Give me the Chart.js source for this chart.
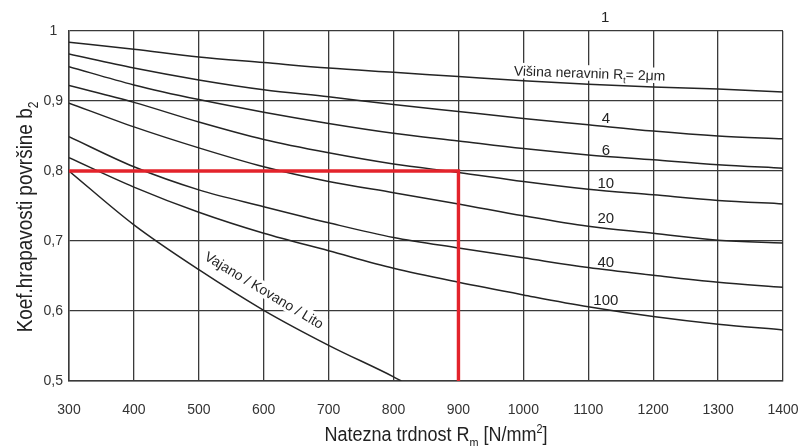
<!DOCTYPE html>
<html>
<head>
<meta charset="utf-8">
<script src="https://cdn.jsdelivr.net/npm/chart.js@4.4.1/dist/chart.umd.min.js"></script>
<style>
  html, body { margin: 0; padding: 0; background: #fff; }
  #wrap { position: relative; width: 799px; height: 446px; }
</style>
</head>
<body>
<div id="wrap"><canvas id="chart"></canvas></div>
<script>
// Tensile strength Rm [N/mm2] (x) and surface roughness factor b2 (y).
const rm = [300, 400, 500, 600, 700, 800, 900, 1000, 1100, 1200, 1300, 1400];
const rt2 = [0.984, 0.974, 0.963, 0.955, 0.947, 0.941, 0.935, 0.929, 0.924, 0.920, 0.917, 0.913];
const rt4 = [0.967, 0.947, 0.930, 0.916, 0.906, 0.895, 0.885, 0.875, 0.866, 0.857, 0.850, 0.846];
const rt6 = [0.949, 0.923, 0.902, 0.884, 0.868, 0.854, 0.843, 0.832, 0.823, 0.816, 0.809, 0.804];
const rt10 = [0.922, 0.898, 0.870, 0.845, 0.826, 0.810, 0.798, 0.785, 0.774, 0.766, 0.758, 0.753];
const rt20 = [0.897, 0.863, 0.833, 0.806, 0.785, 0.769, 0.753, 0.736, 0.721, 0.711, 0.701, 0.697];
const rt40 = [0.849, 0.806, 0.773, 0.749, 0.726, 0.705, 0.690, 0.676, 0.662, 0.651, 0.641, 0.634];
const rt100 = [0.819, 0.777, 0.741, 0.711, 0.686, 0.661, 0.641, 0.623, 0.606, 0.592, 0.581, 0.573];

// cast / forged / rolled curve stops where it meets the bottom axis
const vajanoRm = [300, 400, 500, 600, 700, 800, 812];
const vajano = [0.800, 0.723, 0.659, 0.601, 0.551, 0.506, 0.500];

// red reading line: Rm = 900 -> b2 = 0.8
const readRm = [300, 900, 900];
const readB2 = [0.8, 0.8, 0.5];

const curveNames = ["2", "4", "6", "10", "20", "40", "100"];
const curveValues = [rt2, rt4, rt6, rt10, rt20, rt40, rt100];

const NARROW = '"Liberation Sans Narrow", "Liberation Sans", Arial, sans-serif';
const REGULAR = '"Liberation Sans", Arial, sans-serif';
const INK = "#242424";
const GRID = "#3a3a3a";
const TEXT = "#333";

// labels written on the chart (text runs: [string, "sub"|"sup"|undefined])
const chartLabels = [
  { runs: [["1"]], rm: 1126, b2: 1.021, size: 15 },
  { runs: [["Višina neravnin R"], ["t", "sub"], ["= 2μm"]], rm: 1102, b2: 0.940, size: 14, angle: 2, bg: true },
  { runs: [["4"]], rm: 1127, b2: 0.877, size: 15 },
  { runs: [["6"]], rm: 1127, b2: 0.831, size: 15 },
  { runs: [["10"]], rm: 1127, b2: 0.784, size: 15 },
  { runs: [["20"]], rm: 1127, b2: 0.733, size: 15 },
  { runs: [["40"]], rm: 1127, b2: 0.670, size: 15 },
  { runs: [["100"]], rm: 1127, b2: 0.616, size: 15 },
  { runs: [["Vajano / Kovano / Lito"]], rm: 601, b2: 0.630, size: 14, angle: 31, bg: true },
];

function runFont(size, kind, family) {
  const s = kind ? Math.round(size * 0.62) : size;
  return `${s}px ${family}`;
}

function runsWidth(ctx, runs, size, family) {
  let w = 0;
  runs.forEach(([t, kind]) => {
    ctx.font = runFont(size, kind, family);
    w += ctx.measureText(t).width;
  });
  return w;
}

// draws runs centred on (0,0), vertically centred on the cap height
function drawRuns(ctx, runs, size, family, color) {
  const w = runsWidth(ctx, runs, size, family);
  let x = -w / 2;
  const base = size * 0.36;
  ctx.fillStyle = color;
  ctx.textAlign = "left";
  ctx.textBaseline = "alphabetic";
  runs.forEach(([t, kind]) => {
    ctx.font = runFont(size, kind, family);
    let dy = 0;
    if (kind === "sub") dy = size * 0.28;
    if (kind === "sup") dy = -size * 0.42;
    ctx.fillText(t, x, base + dy);
    x += ctx.measureText(t).width;
  });
  return w;
}

const textPlugin = {
  id: "textPlugin",
  afterDraw(chart) {
    const { ctx } = chart;
    const xs = chart.scales.x;
    const ys = chart.scales.y;

    chartLabels.forEach((l) => {
      const px = xs.getPixelForValue(l.rm);
      const py = ys.getPixelForValue(l.b2);
      ctx.save();
      ctx.translate(px, py);
      if (l.angle) ctx.rotate((l.angle * Math.PI) / 180);
      if (l.bg) {
        const w = runsWidth(ctx, l.runs, l.size, NARROW);
        ctx.fillStyle = "#fff";
        ctx.fillRect(-w / 2 - 2, -l.size * 0.55, w + 4, l.size * 1.1);
      }
      drawRuns(ctx, l.runs, l.size, NARROW, INK);
      ctx.restore();
    });

    // axis titles
    ctx.save();
    ctx.translate(436, 434);
    ctx.scale(0.9, 1);
    drawRuns(ctx, [["Natezna trdnost R"], ["m", "sub"], [" [N/mm"], ["2", "sup"], ["]"]], 20, NARROW, "#222");
    ctx.restore();

    ctx.save();
    ctx.translate(24, 217);
    ctx.rotate(-Math.PI / 2);
    ctx.scale(0.86, 1);
    drawRuns(ctx, [["Koef.hrapavosti površine b"], ["2", "sub"]], 22, NARROW, "#222");
    ctx.restore();
  },
};

const datasets = curveValues.map((vals, i) => ({
  label: "Rt = " + curveNames[i],
  data: rm.map((r, j) => ({ x: r, y: vals[j] })),
  borderColor: INK,
  borderWidth: 1.5,
  pointRadius: 0,
  cubicInterpolationMode: "monotone",
  fill: false,
}));

datasets.push({
  label: "Vajano / Kovano / Lito",
  data: vajanoRm.map((r, j) => ({ x: r, y: vajano[j] })),
  borderColor: INK,
  borderWidth: 1.5,
  pointRadius: 0,
  cubicInterpolationMode: "monotone",
  fill: false,
});

datasets.push({
  label: "Odčitek",
  data: readRm.map((r, j) => ({ x: r, y: readB2[j] })),
  borderColor: "#e3232b",
  borderWidth: 3.4,
  pointRadius: 0,
  tension: 0,
  fill: false,
  order: -1,
});

new Chart(document.getElementById("chart"), {
  type: "line",
  data: { datasets },
  plugins: [textPlugin],
  options: {
    responsive: true,
    maintainAspectRatio: false,
    animation: false,
    layout: { padding: { left: 0, right: 16, top: 31, bottom: 0 } },
    plugins: { legend: { display: false }, tooltip: { enabled: false } },
    scales: {
      x: {
        type: "linear",
        min: 300,
        max: 1400,
        afterFit: (s) => { s.height = 65; s.paddingLeft = 0; s.paddingRight = 0; },
        grid: { color: GRID, lineWidth: 1.3, drawTicks: false },
        border: { color: GRID, width: 1.5 },
        ticks: {
          stepSize: 100,
          autoSkip: false,
          maxRotation: 0,
          padding: 21,
          color: TEXT,
          font: { family: REGULAR, size: 14 },
          callback: (v) => String(v),
        },
      },
      y: {
        min: 0.5,
        max: 1,
        afterFit: (s) => { s.width = 69; s.paddingTop = 0; s.paddingBottom = 0; },
        grid: { color: GRID, lineWidth: 1.3, drawTicks: false },
        border: { color: GRID, width: 1.5 },
        ticks: {
          stepSize: 0.1,
          padding: 6,
          crossAlign: "center",
          color: TEXT,
          font: { family: REGULAR, size: 14 },
          callback: (v) => (Math.abs(v - 1) < 1e-9 ? "1" : v.toFixed(1).replace(".", ",")),
        },
      },
    },
  },
});
</script>
</body>
</html>
